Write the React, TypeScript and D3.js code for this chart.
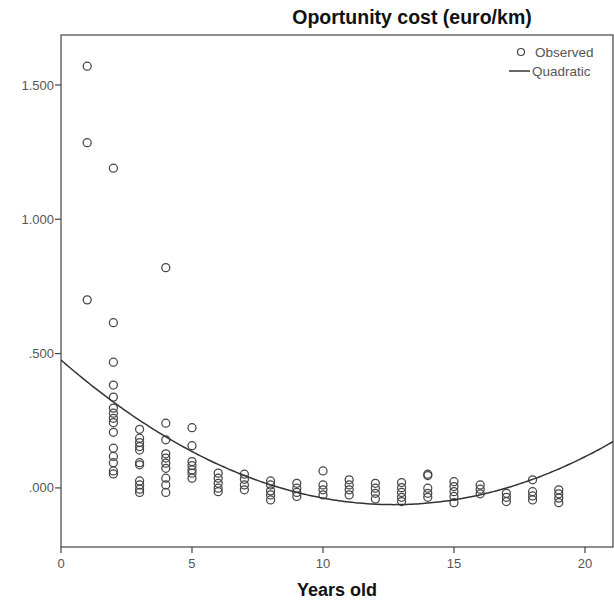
import React from "react";
import * as d3 from "d3";

// Observed points, one list of cost values per age (years old)
const ages = [1, 2, 3, 4, 5, 6, 7, 8, 9, 10, 11, 12, 13, 14, 15, 16, 17, 18, 19];
const costsByAge = [
  [1.57, 1.285, 0.7],
  [1.19, 0.615, 0.468, 0.383, 0.338, 0.297, 0.278, 0.259, 0.243, 0.207, 0.148, 0.117, 0.094, 0.063, 0.052],
  [0.218, 0.185, 0.169, 0.154, 0.141, 0.094, 0.086, 0.026, 0.011, -0.005, -0.017],
  [0.82, 0.241, 0.179, 0.127, 0.111, 0.092, 0.073, 0.036, 0.011, -0.017],
  [0.224, 0.157, 0.098, 0.083, 0.067, 0.055, 0.036],
  [0.055, 0.036, 0.017, -0.001, -0.014],
  [0.051, 0.032, 0.011, -0.007],
  [0.026, 0.011, -0.011, -0.026, -0.045],
  [0.017, -0.001, -0.017, -0.032],
  [0.063, 0.011, -0.007, -0.026],
  [0.03, 0.011, -0.007, -0.026],
  [0.017, -0.001, -0.02, -0.041],
  [0.02, 0.001, -0.017, -0.035, -0.051],
  [0.051, 0.046, -0.001, -0.02, -0.035],
  [0.023, 0.005, -0.014, -0.032, -0.055],
  [0.011, -0.005, -0.022],
  [-0.02, -0.035, -0.051],
  [0.03, -0.014, -0.03, -0.045],
  [-0.007, -0.022, -0.038, -0.055],
];

// quadratic fit: b0 + b1*x + b2*x^2
const quadCoef = [0.476, -0.0848, 0.00334];

const xTicks = [0, 5, 10, 15, 20];
const yTicks = [0, 0.5, 1.0, 1.5];
const yTickLabels = [".000", ".500", "1.000", "1.500"];

const W = 614;
const H = 600;
const left = 61;
const right = 613;
const top = 35;
const bottom = 547;
const axisColor = "#444";
const labelColor = "#555";
const font = "'Liberation Sans', Arial, sans-serif";

export default function App() {
  const x = d3.scaleLinear().domain([0, 21.07]).range([left, right]);
  const y = d3.scaleLinear().domain([-0.22, 1.686]).range([bottom, top]);

  const points = ages.flatMap((a, i) => costsByAge[i].map((v) => ({ a, v })));

  const curveXs = d3.range(0, 21.07 + 0.05, 0.1);
  const line = d3
    .line<number>()
    .x((d) => x(d))
    .y((d) => y(quadCoef[0] + quadCoef[1] * d + quadCoef[2] * d * d));

  return (
    <svg
      width={W}
      height={H}
      style={{ position: "absolute", left: 0, top: 0, background: "#fff" }}
      fontFamily={font}
    >
      <defs>
        <clipPath id="plotClip">
          <rect x={left} y={top} width={right - left} height={bottom - top} />
        </clipPath>
      </defs>

      {/* title */}
      <text x={412} y={24} textAnchor="middle" fontSize={19.5} fontWeight="bold" fill="#111">
        Oportunity cost (euro/km)
      </text>

      {/* frame */}
      <rect
        x={left}
        y={top}
        width={right - left}
        height={bottom - top}
        fill="none"
        stroke={axisColor}
        strokeWidth={1.2}
      />

      {/* y axis ticks */}
      {yTicks.map((t, i) => (
        <g key={"y" + t}>
          <line x1={left - 6} x2={left} y1={y(t)} y2={y(t)} stroke={axisColor} strokeWidth={1.2} />
          <text
            x={left - 7}
            y={y(t)}
            dy="0.35em"
            textAnchor="end"
            fontSize={13}
            fill={labelColor}
          >
            {yTickLabels[i]}
          </text>
        </g>
      ))}

      {/* x axis ticks */}
      {xTicks.map((t) => (
        <g key={"x" + t}>
          <line x1={x(t)} x2={x(t)} y1={bottom} y2={bottom + 6} stroke={axisColor} strokeWidth={1.2} />
          <text x={x(t)} y={bottom + 21} textAnchor="middle" fontSize={13} fill={labelColor}>
            {t}
          </text>
        </g>
      ))}

      <text x={337} y={596} textAnchor="middle" fontSize={18} fontWeight="bold" fill="#111">
        Years old
      </text>

      {/* observed */}
      <g clipPath="url(#plotClip)">
        {points.map((p, i) => (
          <circle
            key={i}
            cx={x(p.a)}
            cy={y(p.v)}
            r={4}
            fill="none"
            stroke="#444"
            strokeWidth={1.25}
          />
        ))}
        <path d={line(curveXs) || ""} fill="none" stroke="#333" strokeWidth={1.5} />
      </g>

      {/* legend */}
      <g fontSize={13.5} fill={labelColor}>
        <circle cx={521} cy={52} r={3.5} fill="none" stroke="#444" strokeWidth={1.2} />
        <text x={535} y={52} dy="0.35em">
          Observed
        </text>
        <line x1={509} x2={530} y1={71} y2={71} stroke="#333" strokeWidth={1.5} />
        <text x={532} y={71} dy="0.35em">
          Quadratic
        </text>
      </g>
    </svg>
  );
}
